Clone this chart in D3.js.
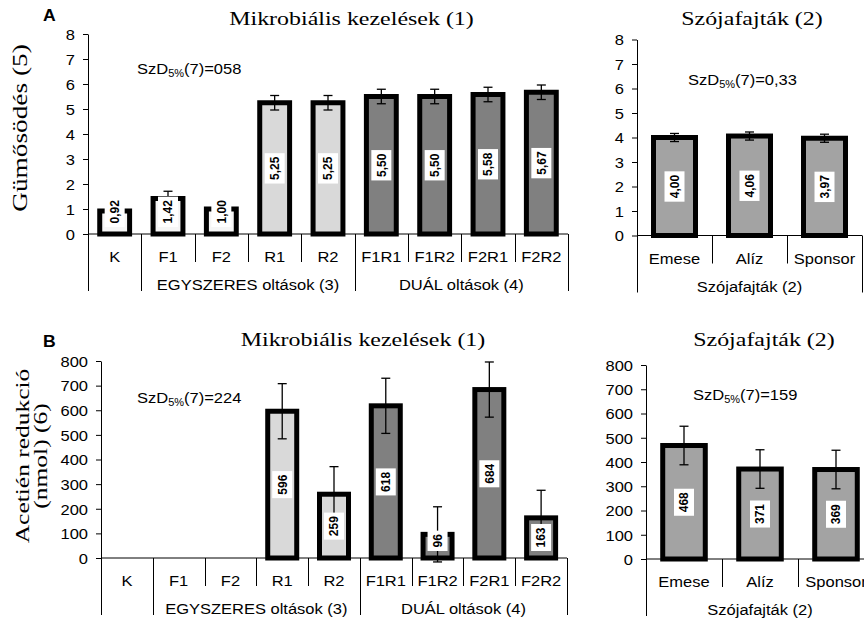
<!DOCTYPE html>
<html>
<head>
<meta charset="utf-8">
<script src="https://cdn.jsdelivr.net/npm/d3@7"></script>
<style>
  body { margin: 0; background: #fff; }
  svg { display: block; }
</style>
</head>
<body>
<svg id="chart" width="864" height="620"></svg>
<script>
// Microbial treatments
const treatments = ["K", "F1", "F2", "R1", "R2", "F1R1", "F1R2", "F2R1", "F2R2"];
const treatmentKind = ["control", "single", "single", "rhizo", "rhizo", "dual", "dual", "dual", "dual"];
const groupLabels = ["EGYSZERES oltások (3)", "DUÁL oltások (4)"];
const groupStart = [1, 5];
const groupEnd = [5, 9];

// Soybean varieties
const varieties = ["Emese", "Alíz", "Sponsor"];
const varietyGroupLabel = "Szójafajták (2)";

// Nodulation (score)
const nodulationByTreatment = [0.92, 1.42, 1.00, 5.25, 5.25, 5.50, 5.50, 5.58, 5.67];
const nodulationByVariety = [4.00, 4.06, 3.97];
const nodulationLsd = [0.58, 0.33];
const nodulationLsdText = ["058", "0,33"];
const nodulationTicks = [0, 1, 2, 3, 4, 5, 6, 7, 8];

// Acetylene reduction (nmol)
const acetyleneByTreatment = [null, null, null, 596, 259, 618, 96, 684, 163];
const acetyleneByVariety = [468, 371, 369];
const acetyleneLsd = [224, 159];
const acetyleneLsdText = ["224", "159"];
const acetyleneTicks = [0, 100, 200, 300, 400, 500, 600, 700, 800];

const kindFill = { control: "#f6f6f6", single: "#f6f6f6", rhizo: "#d9d9d9", dual: "#808080", variety: "#a3a3a3" };

const SANS = "'Liberation Sans', Arial, sans-serif";
const SERIF = "'Liberation Serif', 'Times New Roman', serif";

const hu = d3.formatLocale({ decimal: ",", thousands: " ", grouping: [3], currency: ["", " Ft"] });
const fmt2 = hu.format(".2f");
const fmtInt = d3.format("d");

const svg = d3.select("#chart");

// Horizontal text, slightly widened to the original typeface proportions
function hText(parent, str, x, y, opt) {
  const o = Object.assign({ size: 15, family: SANS, anchor: "start", weight: "normal", sx: 1.1 }, opt || {});
  return parent.append("text")
    .attr("transform", `translate(${x},${y}) scale(${o.sx},1)`)
    .attr("text-anchor", o.anchor)
    .attr("font-family", o.family)
    .attr("font-size", o.size)
    .attr("font-weight", o.weight)
    .attr("fill", "#000")
    .text(str);
}

function vText(parent, str, x, y, opt) {
  const o = Object.assign({ size: 20, family: SERIF, sx: 1.27 }, opt || {});
  return parent.append("text")
    .attr("transform", `translate(${x},${y}) rotate(-90) scale(${o.sx},1)`)
    .attr("text-anchor", "middle")
    .attr("font-family", o.family)
    .attr("font-size", o.size)
    .attr("fill", "#000")
    .text(str);
}

function lsdNote(parent, valueText, x, y) {
  const t = parent.append("text")
    .attr("transform", `translate(${x},${y}) scale(1.1,1)`)
    .attr("font-family", SANS)
    .attr("font-size", 15)
    .attr("fill", "#000");
  t.append("tspan").text("SzD");
  t.append("tspan").attr("font-size", 10).attr("dy", 3).text("5%");
  t.append("tspan").attr("dy", -3).text("(7)=" + valueText);
}

function panel(c) {
  const g = svg.append("g");
  const x = d3.scaleBand().domain(c.cats).range([c.x0, c.x1]).padding(0);
  const y = d3.scaleLinear().domain([0, c.max]).range([c.y0, c.yTop]);
  const step = x.step();
  const bw = step * 0.56;

  // value axis
  const ax = g.append("g")
    .attr("transform", `translate(${c.x0},0)`)
    .call(d3.axisLeft(y).tickValues(c.ticks).tickSize(5).tickSizeOuter(0).tickPadding(0).tickFormat(d3.format("d")));
  ax.attr("font-family", SANS).attr("font-size", 15);
  ax.select(".domain").attr("stroke", "#000").attr("stroke-width", 1);
  ax.selectAll(".tick line").attr("stroke", "#000");
  ax.selectAll(".tick text")
    .attr("x", 0).attr("dy", "0.35em").attr("fill", "#000")
    .attr("transform", "translate(-13,0) scale(1.1,1)");

  // category baseline
  g.append("line")
    .attr("x1", c.x0).attr("x2", c.x1).attr("y1", c.y0).attr("y2", c.y0)
    .attr("stroke", "#000").attr("stroke-width", 1);

  // category separators (long ones at group boundaries)
  d3.range(c.cats.length + 1).forEach(i => {
    const xx = Math.round(c.x0 + i * step) + 0.5;
    const isLong = c.long.includes(i);
    g.append("line")
      .attr("x1", xx).attr("x2", xx)
      .attr("y1", c.y0).attr("y2", c.y0 + (isLong ? 57 : 28))
      .attr("stroke", "#000").attr("stroke-width", 1);
  });

  // category labels
  c.cats.forEach(cat => {
    hText(g, cat, x(cat) + step / 2, c.y0 + 28, { anchor: "middle" });
  });

  // group labels
  c.groups.forEach(gr => {
    const cx = c.x0 + (gr.from + gr.to) / 2 * step;
    hText(g, gr.label, cx, c.y0 + 56, { anchor: "middle" });
  });

  const rows = c.cats.map((cat, i) => ({ cat, v: c.values[i], fill: c.fills[i] }))
    .filter(d => d.v !== null);

  // bars
  g.selectAll("rect.bar").data(rows).enter().append("rect")
    .attr("class", "bar")
    .attr("x", d => x(d.cat) + (step - bw) / 2)
    .attr("width", bw)
    .attr("y", d => y(d.v))
    .attr("height", d => y(0) - y(d.v))
    .attr("fill", d => d.fill)
    .attr("stroke", "#000")
    .attr("stroke-width", 5);

  // error bars (± half of the LSD)
  rows.forEach(d => {
    const cx = x(d.cat) + step / 2;
    const yTop = y(d.v + c.err), yBot = y(d.v - c.err);
    g.append("line").attr("x1", cx).attr("x2", cx).attr("y1", yTop).attr("y2", yBot)
      .attr("stroke", "#000").attr("stroke-width", 1.3);
    [yTop, yBot].forEach(yy => {
      g.append("line").attr("x1", cx - 4.5).attr("x2", cx + 4.5).attr("y1", yy).attr("y2", yy)
        .attr("stroke", "#000").attr("stroke-width", 1.3);
    });
  });

  // value labels in white boxes; on short bars the box is lifted off the base
  rows.forEach(d => {
    const cx = x(d.cat) + step / 2;
    const lg = g.append("g");
    const box = lg.append("rect").attr("fill", "#fff");
    const t = lg.append("text")
      .attr("text-anchor", "middle").attr("dy", "0.36em")
      .attr("font-family", SANS).attr("font-size", 12).attr("font-weight", "bold")
      .attr("fill", "#000")
      .text(c.fmt(d.v));
    const L = t.node().getComputedTextLength();
    const len = L + 7;
    const cy = Math.min((y(0) + y(d.v)) / 2, y(0) - 7 - len / 2);
    lg.attr("transform", `translate(${cx},${cy}) rotate(-90)`);
    box.attr("x", -len / 2).attr("width", len).attr("y", -10).attr("height", 20);
  });

  return { x, y };
}

const treatmentFills = treatmentKind.map(k => kindFill[k]);
const varietyFills = varieties.map(() => kindFill.variety);
const treatmentGroups = groupLabels.map((label, i) => ({ label, from: groupStart[i], to: groupEnd[i] }));
const varietyGroups = [{ label: varietyGroupLabel, from: 0, to: varieties.length }];

// A – nodulation
panel({ cats: treatments, values: nodulationByTreatment, fills: treatmentFills, err: nodulationLsd[0] / 2,
  max: 8, ticks: nodulationTicks, x0: 88, x1: 568, y0: 234, yTop: 34,
  long: [0, 1, 5, 9], groups: treatmentGroups, fmt: fmt2 });
panel({ cats: varieties, values: nodulationByVariety, fills: varietyFills, err: nodulationLsd[1] / 2,
  max: 8, ticks: nodulationTicks, x0: 637, x1: 862, y0: 235.5, yTop: 39.5,
  long: [0, 3], groups: varietyGroups, fmt: fmt2 });

// B – acetylene reduction
panel({ cats: treatments, values: acetyleneByTreatment, fills: treatmentFills, err: acetyleneLsd[0] / 2,
  max: 800, ticks: acetyleneTicks, x0: 101, x1: 567, y0: 558, yTop: 361,
  long: [0, 1, 5, 9], groups: treatmentGroups, fmt: fmtInt });
panel({ cats: varieties, values: acetyleneByVariety, fills: varietyFills, err: acetyleneLsd[1] / 2,
  max: 800, ticks: acetyleneTicks, x0: 646, x1: 874, y0: 559, yTop: 365,
  long: [0, 3], groups: varietyGroups, fmt: fmtInt });

// panel titles
hText(svg, "Mikrobiális kezelések (1)", 351.5, 25, { family: SERIF, size: 19, sx: 1.26, anchor: "middle" });
hText(svg, "Szójafajták (2)", 752, 25, { family: SERIF, size: 19, sx: 1.26, anchor: "middle" });
hText(svg, "Mikrobiális kezelések (1)", 363, 346, { family: SERIF, size: 19, sx: 1.26, anchor: "middle" });
hText(svg, "Szójafajták (2)", 764, 346, { family: SERIF, size: 19, sx: 1.26, anchor: "middle" });

// panel letters
hText(svg, "A", 43, 21, { size: 16, weight: "bold" });
hText(svg, "B", 43, 347, { size: 16, weight: "bold" });

// value axis titles
vText(svg, "Gümősödés (5)", 27, 128, { size: 21, sx: 1.3 });
vText(svg, "Acetién redukció", 29, 456, { size: 19, sx: 1.34 });
vText(svg, "(nmol) (6)", 47, 456, { size: 19, sx: 1.34 });

// LSD notes
lsdNote(svg, nodulationLsdText[0], 137, 74);
lsdNote(svg, nodulationLsdText[1], 688, 85);
lsdNote(svg, acetyleneLsdText[0], 137, 403);
lsdNote(svg, acetyleneLsdText[1], 693, 400);
</script>
</body>
</html>
